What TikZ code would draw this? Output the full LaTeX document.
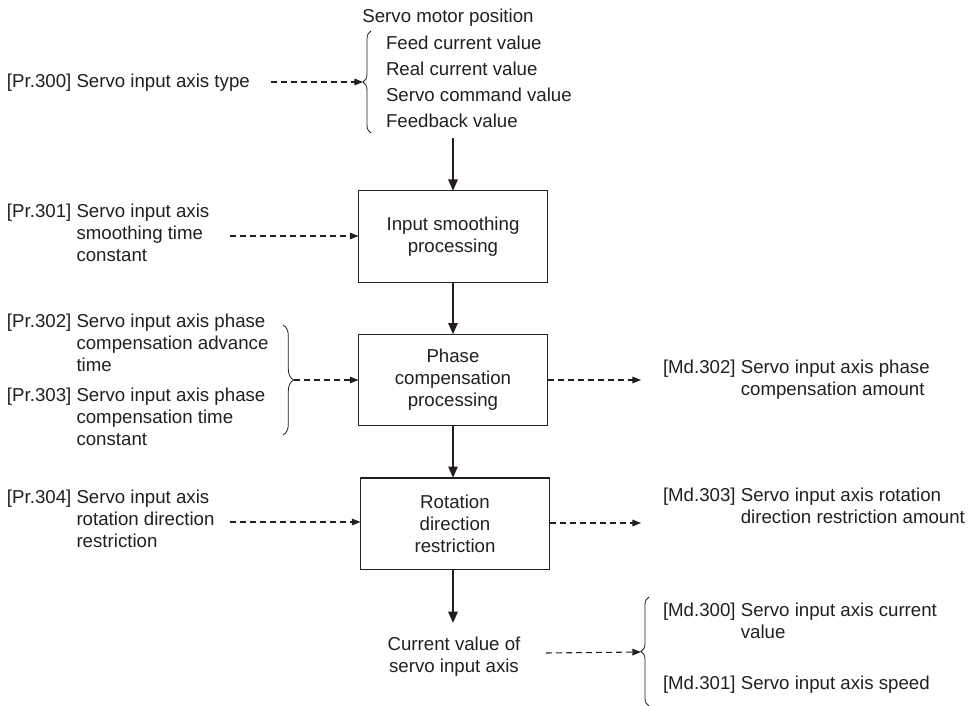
\documentclass[tikz,border=0pt]{standalone}
\usepackage{fontspec}
\setmainfont{Liberation Sans}
\usetikzlibrary{arrows.meta,decorations.pathreplacing}
\definecolor{ink}{HTML}{231F20}
\begin{document}
\begin{tikzpicture}[x=0.75pt,y=-0.75pt,
  every node/.style={inner sep=0pt,outer sep=0pt,text=ink,font=\fontsize{14}{16.5}\selectfont},
  procbox/.style={draw=ink,line width=1pt,align=center,minimum width=141.75pt,minimum height=68.5pt},
  solidarr/.style={draw=ink,line width=1.5pt,-{Triangle[length=8.5pt,width=7pt]}},
  dasharr/.style={draw=ink,line width=0.8pt,dash pattern=on 4.5pt off 3pt,-{Triangle[length=6.5pt,width=5pt]}},
  bracestyle/.style={draw=ink,line width=0.6pt,decorate,decoration={brace,amplitude=#1}}
]
\useasboundingbox (0,0) rectangle (971,706);

% top: servo motor position
\node (smp) at (448,18) {Servo motor position};
\node[anchor=west,align=left,font=\fontsize{14}{19.5}\selectfont] (items) at (386,82)
  {Feed current value\\Real current value\\Servo command value\\Feedback value};
\coordinate (b1tip) at (363,82);
\draw[bracestyle=6pt] (371,133) -- (371,31);

\node[anchor=west] (p300) at (7,83) {[Pr.300] Servo input axis type};
\coordinate (d300) at (271,82);
\draw[dasharr] (d300) -- (b1tip);

% boxes
\node[procbox] (box1) at (453,236.5) {Input smoothing\\processing};
\node[procbox] (box2) at (453,380) {Phase\\compensation\\processing};
\node[procbox] (box3) at (455,523.5) {Rotation\\direction\\restriction};
\coordinate (top1) at (453,138);
\draw[solidarr] (top1) -- (box1.north -| top1);
\draw[solidarr] (box1.south) -- (box2.north);
\draw[solidarr] (box2.south) -- (box2.south |- box3.north);
\node[align=center] (cur) at (454,657) {Current value of\\servo input axis};
\coordinate (curtop) at (453,623);
\draw[solidarr] (box3.south -| curtop) -- (curtop);

% left inputs
\node[anchor=west] (p301) at (7,235) {\begin{tabular}{@{}l@{ }l@{}}[Pr.301] & Servo input axis\\ & smoothing time\\ & constant\end{tabular}};
\coordinate (d301) at (230,236);
\draw[dasharr] (d301) -- (box1.west |- d301);

\node[anchor=west] (p302) at (7,345) {\begin{tabular}{@{}l@{ }l@{}}[Pr.302] & Servo input axis phase\\ & compensation advance\\ & time\end{tabular}};
\node[anchor=west] (p303) at (7,419.5) {\begin{tabular}{@{}l@{ }l@{}}[Pr.303] & Servo input axis phase\\ & compensation time\\ & constant\end{tabular}};
\draw[bracestyle=8pt] (283,325) -- (283,435);
\coordinate (b2tip) at (294,380);
\draw[dasharr] (b2tip) -- (box2.west);

\node[anchor=west] (p304) at (7,521) {\begin{tabular}{@{}l@{ }l@{}}[Pr.304] & Servo input axis\\ & rotation direction\\ & restriction\end{tabular}};
\coordinate (d304) at (230,522);
\draw[dasharr] (d304) -- (box3.west |- d304);

% right outputs
\node[anchor=west] (m302) at (663,380) {\begin{tabular}{@{}l@{ }l@{}}[Md.302] & Servo input axis phase\\ & compensation amount\end{tabular}};
\coordinate (e302) at (641,380);
\draw[dasharr] (box2.east) -- (e302);

\node[anchor=west] (m303) at (663,508) {\begin{tabular}{@{}l@{ }l@{}}[Md.303] & Servo input axis rotation\\ & direction restriction amount\end{tabular}};
\coordinate (e303) at (641,523);
\draw[dasharr] (box3.east |- e303) -- (e303);

% bottom
\coordinate (d3s) at (546,653);
\coordinate (b3tip) at (641,652);
\draw[dasharr] (d3s) -- (b3tip);
\draw[bracestyle=6pt] (649,706) -- (649,597);
\node[anchor=west] (m300) at (663,623.5) {\begin{tabular}{@{}l@{ }l@{}}[Md.300] & Servo input axis current\\ & value\end{tabular}};
\node[anchor=west] (m301) at (663,685) {[Md.301] Servo input axis speed};
\end{tikzpicture}
\end{document}
